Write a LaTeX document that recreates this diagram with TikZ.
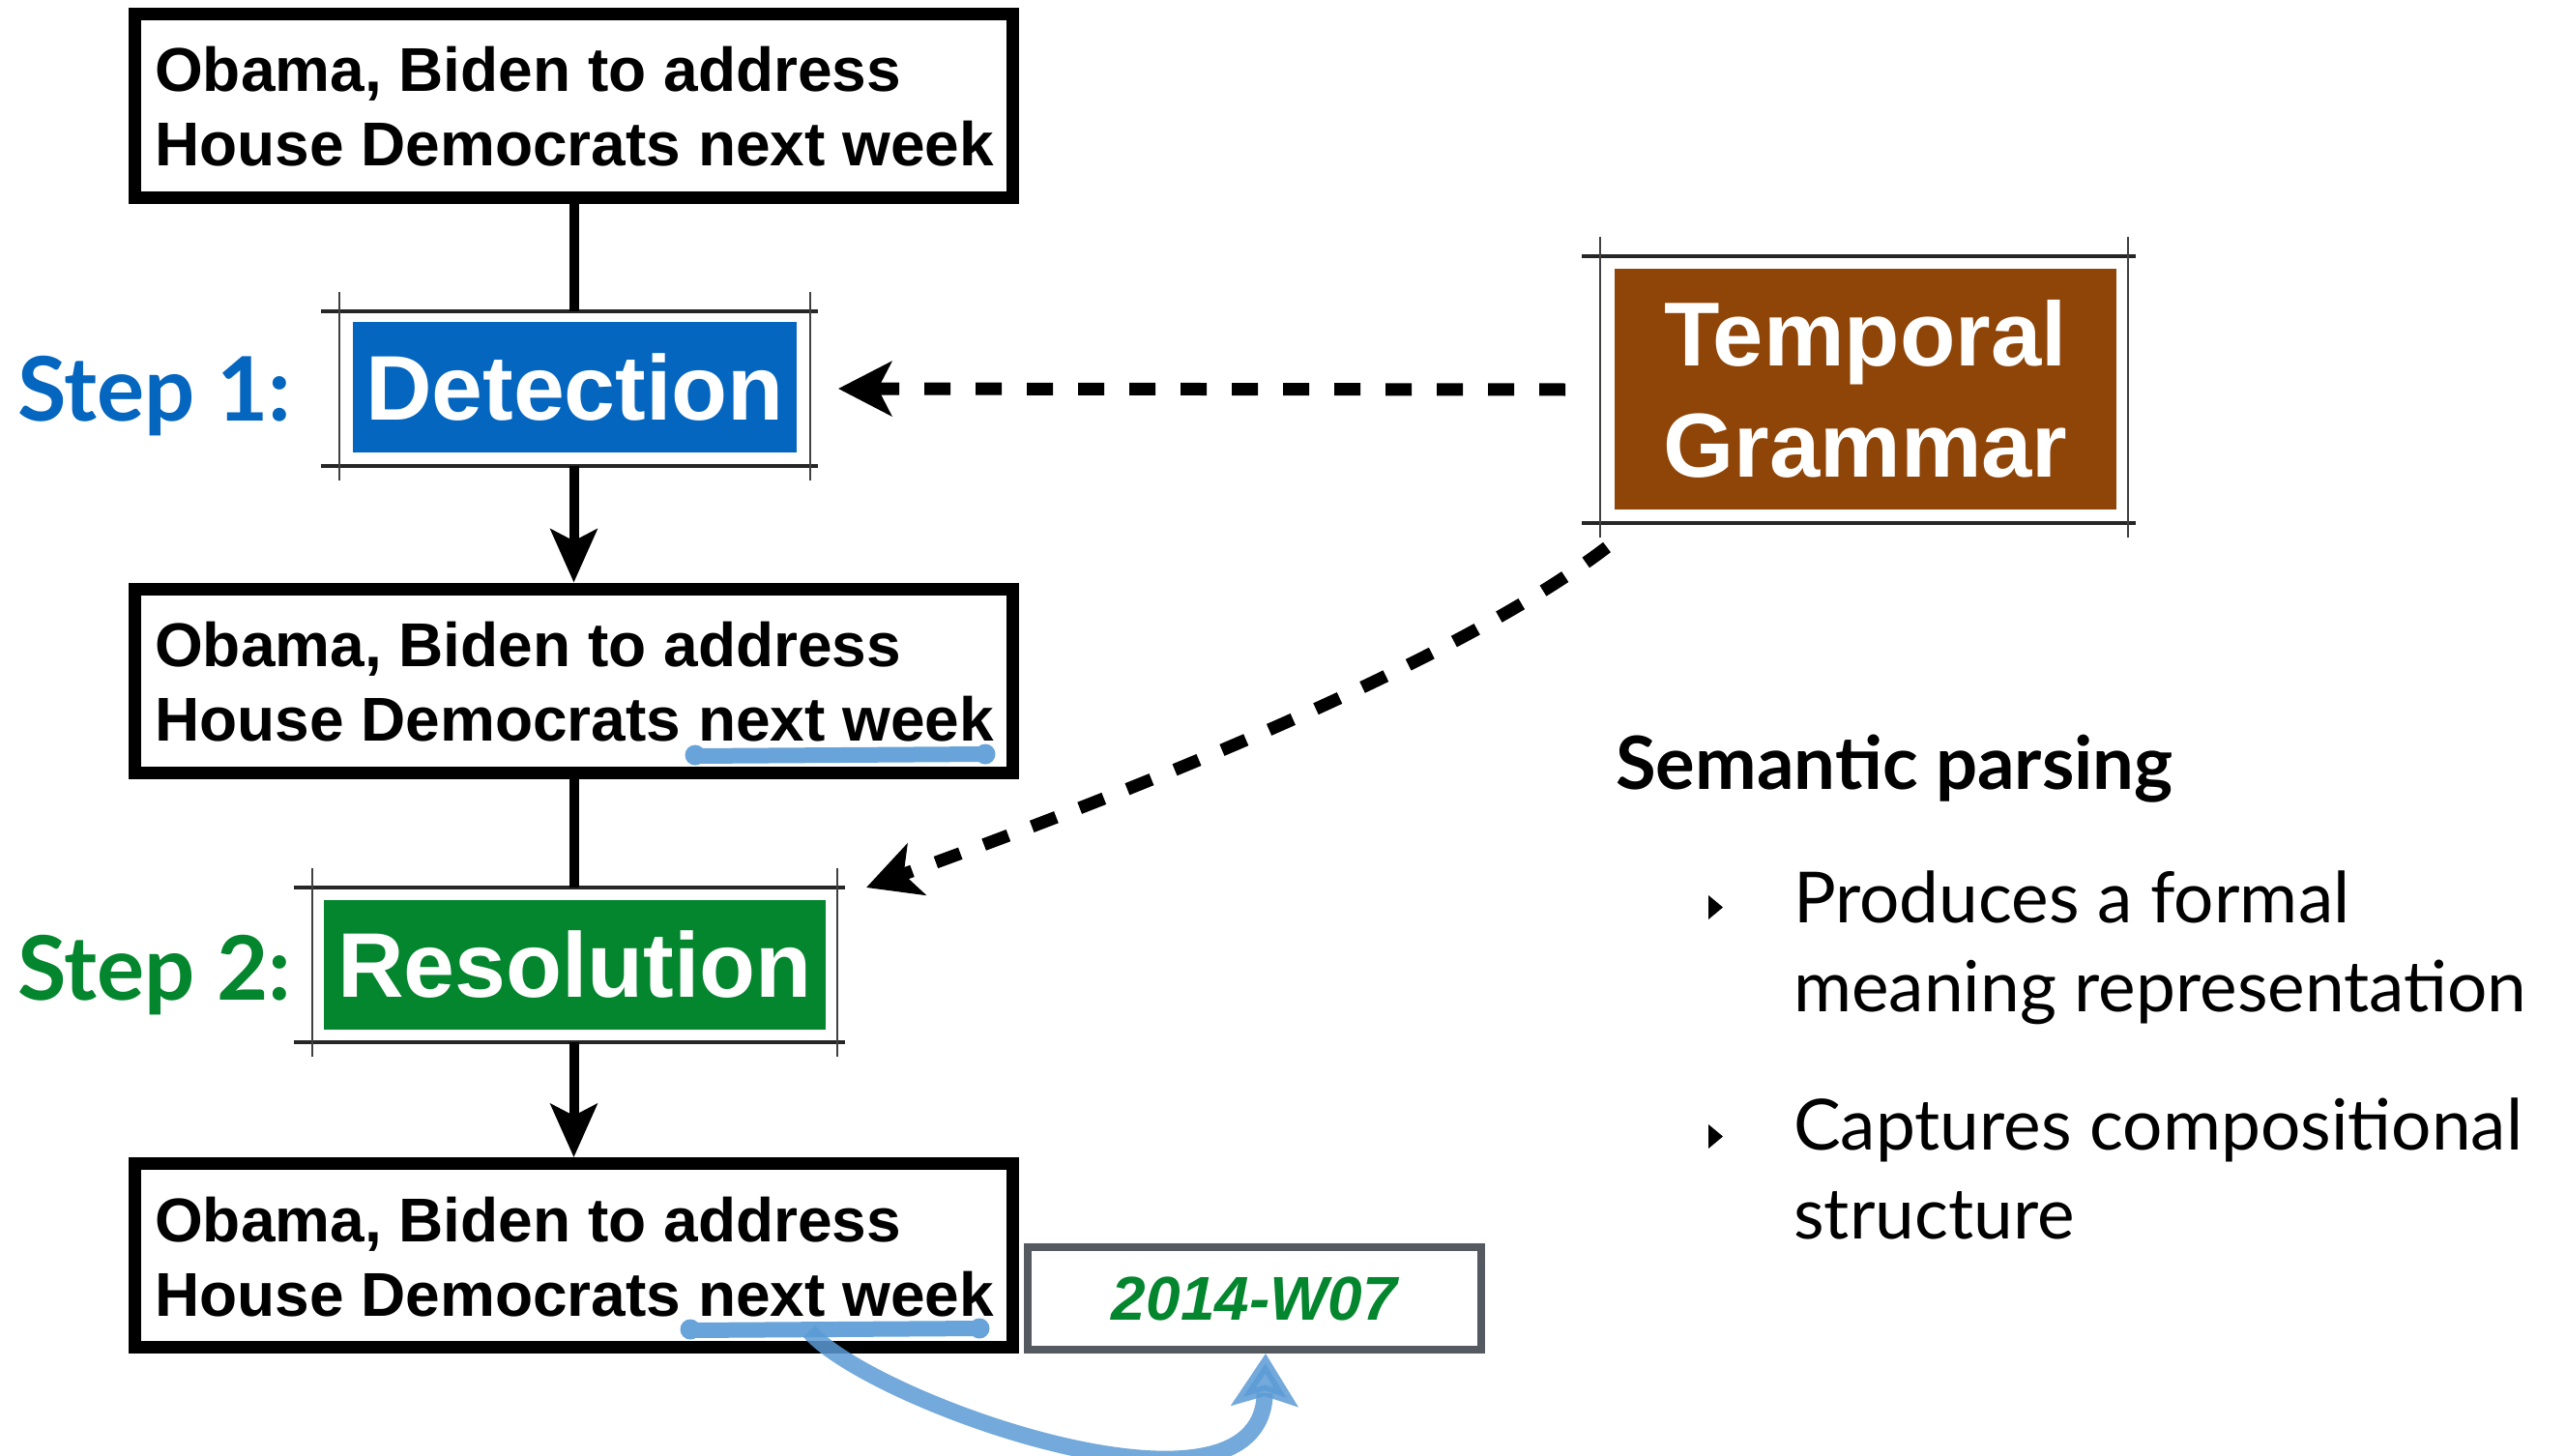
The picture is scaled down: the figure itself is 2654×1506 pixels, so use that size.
\documentclass[tikz,border=0pt]{standalone}
\usepackage{fontspec}
\setmainfont{Liberation Sans}
\newfontfamily\gill{Lato}
\usetikzlibrary{arrows.meta}
\definecolor{detblue}{HTML}{0566C0}
\definecolor{resgreen}{HTML}{04862E}
\definecolor{tgbrown}{HTML}{8F4508}
\definecolor{ulblue}{HTML}{68A3DA}
\definecolor{dategray}{HTML}{555960}
\definecolor{arrblue}{HTML}{5B9BD5}
\newcommand{\mysketch}[1]{%
  \draw[hline] ([xshift=-19pt]#1.north west) -- ([xshift=8pt]#1.north east);
  \draw[hline] ([xshift=-19pt]#1.south west) -- ([xshift=8pt]#1.south east);
  \draw[vline] ([yshift=20pt]#1.north west) -- ([yshift=-15pt]#1.south west);
  \draw[vline] ([yshift=20pt]#1.north east) -- ([yshift=-15pt]#1.south east);}
\begin{document}
\begin{tikzpicture}[x=1pt,y=-1pt,
  textbox/.style={draw=black, line width=13pt, minimum width=908pt, minimum height=190pt, inner sep=0pt, fill=white},
  boxtext/.style={anchor=base west, inner sep=0pt, font=\bfseries\fontsize{64}{77}\selectfont},
  framebox/.style={inner sep=0pt, outer sep=0pt},
  hline/.style={line width=4.5pt, black!85},
  vline/.style={line width=2pt, black!75},
  fillbox/.style={inner sep=0pt, text=white, font=\bfseries\fontsize{95}{115}\selectfont},
  conn/.style={line width=10pt},
  flowarrow/.style={conn, -{Stealth[length=55pt,width=48pt,inset=12pt]}},
  dasharrow/.style={line width=13pt, dash pattern=on 27pt off 26pt, -{Stealth[length=55pt,width=56pt,inset=14pt]}},
  steplabel/.style={anchor=base west, inner sep=0pt, font=\gill\bfseries\fontsize{92}{110}\selectfont},
  underl/.style={ulblue, line width=16pt, line cap=round},
  bluearrow/.style={arrblue, opacity=0.85, line width=17pt, -{Stealth[length=54pt,width=68pt,inset=10pt]}},
  rtext/.style={anchor=base west, inner sep=0pt, font=\gill\fontsize{73}{92}\selectfont},
]
\useasboundingbox (0,0) rectangle (2654,1506);
\fill[white] (0,0) rectangle (2654,1506);

% text boxes
\node[textbox] (b1) at (593.5,109.5) {};
\node[textbox] (b2) at (593.5,704) {};
\node[textbox] (b3) at (593.5,1298.5) {};
\node[boxtext] (b1t) at (160,95) {\begin{tabular}[t]{@{}l@{}}Obama, Biden to address\\House Democrats next week\end{tabular}};
\node[boxtext] (b2t) at (160,689) {\begin{tabular}[t]{@{}l@{}}Obama, Biden to address\\House Democrats next week\end{tabular}};
\node[boxtext] (b3t) at (160,1284) {\begin{tabular}[t]{@{}l@{}}Obama, Biden to address\\House Democrats next week\end{tabular}};

% underlines
\draw[underl] (719,782) -- (1019,780);
\fill[ulblue] (719,781) circle (10.5pt) (1019,780) circle (10.5pt);
\draw[underl] (714,1376) -- (1013,1374);
\fill[ulblue] (714,1375) circle (10.5pt) (1013,1374) circle (10.5pt);

% sketch frames
\node[framebox, minimum width=487pt, minimum height=160pt] (detf) at (594.5,402) {};
\node[framebox, minimum width=543pt, minimum height=160pt] (resf) at (594.5,998) {};
\node[framebox, minimum width=546pt, minimum height=276pt] (tgf) at (1928,403) {};
\mysketch{detf}
\mysketch{resf}
\mysketch{tgf}

% filled boxes
\node[fillbox, fill=detblue, minimum width=459pt, minimum height=135pt] (det) at (594.5,400.5) {Detection};
\node[fillbox, fill=resgreen, minimum width=519pt, minimum height=134pt] (res) at (594.5,998) {Resolution};
\node[fillbox, fill=tgbrown, minimum width=519pt, minimum height=249pt, align=center, font=\bfseries\fontsize{94}{115}\selectfont] (tg) at (1929.5,402.5) {Temporal\\Grammar};

% step labels
\node[steplabel, text=detblue] (s1) at (18,435) {Step 1:};
\node[steplabel, text=resgreen] (s2) at (18,1034) {Step 2:};

% connectors
\draw[conn] (b1.south) -- (b1.south |- detf.north);
\draw[flowarrow] (b1.south |- detf.south) -- (b2.north);
\draw[conn] (b2.south) -- (b2.south |- resf.north);
\draw[flowarrow] (b2.south |- resf.south) -- (b3.north);

% dashed arrows
\draw[dasharrow] ([xshift=-36pt]tgf.west) -- ([xshift=29pt]detf.east);
\draw[dasharrow] ([xshift=7pt,yshift=-25pt]tgf.south west) .. controls (1500,690) and (1146,828) .. ([xshift=30pt]resf.north east);

% date box
\node[draw=dategray, line width=8pt, minimum width=469pt, minimum height=106pt, inner sep=0pt, text=resgreen, font=\bfseries\itshape\fontsize{64}{77}\selectfont] (dt) at (1297.5,1343) {2014-W07};
\coordinate (u3) at (837,1377);
\draw[bluearrow] (u3) .. controls (900,1450) and (1305,1595) .. ([xshift=11.5pt]dt.south);

% right text
\node[anchor=base west, inner sep=0pt, font=\gill\bfseries\fontsize{76}{90}\selectfont] (sp) at (1671,816) {Semantic parsing};
\fill (1767,926) -- (1782,938.5) -- (1767,951) -- cycle;
\fill (1767,1163) -- (1782,1175.5) -- (1767,1188) -- cycle;
\node[rtext] (i1) at (1855,954) {\begin{tabular}[t]{@{}l@{}}Produces a formal\\meaning representation\end{tabular}};
\node[rtext] (i2) at (1855,1189) {\begin{tabular}[t]{@{}l@{}}Captures compositional\\structure\end{tabular}};
\end{tikzpicture}
\end{document}
